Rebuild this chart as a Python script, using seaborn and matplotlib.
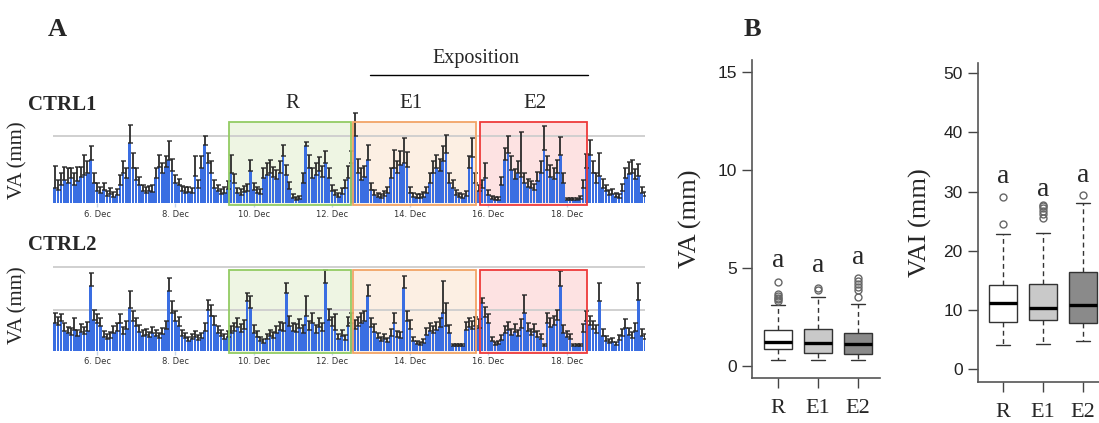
import numpy as np
import pandas as pd
import matplotlib
matplotlib.use('Agg')
import matplotlib.pyplot as plt
from matplotlib.patches import Rectangle
import seaborn as sns

sns.set_style('white')
plt.rcParams['font.family'] = ['Liberation Serif', 'DejaVu Serif']

# 2-hourly means, 4 Dec 22:00 -> 20 Dec 00:00 (arbitrary mm scale)
times = pd.date_range('2017-12-04 22:00', periods=182, freq='2h')

ctrl1_va = [
    1.5, 1.3, 1.8, 2.3, 2.0, 2.5, 1.8, 2.2, 2.6, 2.8, 3.0, 4.3,
    2.0, 1.2, 1.0, 1.3, 0.7, 0.9, 0.6, 0.8, 1.8, 3.0, 2.5, 6.0,
    3.5, 2.3, 1.8, 1.2, 1.0, 1.2, 1.1, 2.5, 3.6, 3.0, 3.6, 4.3,
    3.2, 2.0, 1.8, 1.2, 1.0, 1.1, 1.0, 2.7, 1.5, 3.5, 5.8, 4.0,
    3.0, 1.5, 1.2, 0.9, 1.0, 1.4, 3.0, 2.0, 1.0, 0.8, 1.1, 1.2,
    3.2, 1.3, 1.0, 0.9, 2.5, 2.8, 3.0, 2.6, 2.4, 3.0, 4.7, 2.8,
    1.4, 0.5, 0.3, 0.4, 2.0, 5.7, 3.5, 2.5, 2.8, 3.2, 2.6, 4.0,
    2.5, 1.2, 0.8, 0.6, 0.9, 1.5, 2.5, 4.0, 6.7, 3.0, 2.3, 2.6,
    4.3, 1.3, 0.8, 0.6, 0.5, 0.7, 1.0, 2.5, 3.5, 3.0, 3.8, 4.0,
    3.6, 1.0, 0.6, 0.5, 0.5, 0.6, 1.0, 2.0, 3.0, 3.5, 3.2, 4.2,
    5.0, 2.0, 1.5, 0.8, 0.6, 0.5, 0.7, 3.5, 4.6, 2.0, 1.2, 1.5,
    2.5, 0.8, 0.4, 0.3, 0.3, 1.8, 4.3, 5.0, 3.3, 2.4, 3.0, 2.6,
    2.0, 1.6, 1.5, 1.3, 2.2, 3.0, 5.3, 3.3, 2.6, 2.4, 3.0, 4.8,
    2.0, 0.3, 0.3, 0.3, 0.3, 0.4, 1.5, 3.5, 4.8, 3.0, 2.0, 2.7,
    1.5, 1.2, 0.8, 0.9, 0.6, 0.5, 1.2, 2.5, 2.9, 3.0, 2.4, 2.7,
    1.0, 0.7,
]
ctrl1_err = [
    2.2, 1.0, 1.2, 1.3, 1.5, 1.0, 1.2, 1.4, 1.0, 2.0, 1.2, 1.4,
    1.0, 0.8, 0.6, 0.7, 0.5, 0.6, 0.5, 0.6, 1.0, 1.2, 1.0, 1.8,
    1.5, 1.2, 0.8, 0.6, 0.6, 0.5, 0.7, 1.0, 1.2, 1.0, 1.1, 1.9,
    1.2, 0.8, 0.6, 0.5, 0.6, 0.5, 0.5, 2.0, 0.8, 1.2, 0.9, 1.0,
    1.2, 0.8, 0.6, 0.5, 0.6, 0.8, 1.8, 0.9, 0.5, 0.6, 0.6, 0.7,
    1.1, 0.7, 0.6, 0.5, 1.0, 1.2, 1.3, 1.0, 0.9, 1.2, 1.1, 1.0,
    0.7, 0.4, 0.3, 0.3, 1.0, 0.4, 1.3, 1.0, 1.2, 1.4, 1.1, 1.2,
    1.0, 0.6, 0.5, 0.4, 0.6, 0.8, 1.2, 1.2, 2.3, 1.4, 1.2, 1.1,
    1.5, 0.7, 0.5, 0.4, 0.4, 0.5, 0.6, 1.0, 1.8, 1.2, 1.4, 2.5,
    1.5, 0.6, 0.4, 0.4, 0.4, 0.5, 0.6, 1.0, 1.2, 1.3, 1.2, 1.5,
    1.8, 1.0, 0.8, 0.5, 0.4, 0.4, 0.5, 1.2, 1.9, 1.0, 0.6, 0.8,
    1.5, 0.5, 0.3, 0.3, 0.3, 0.8, 1.2, 1.7, 1.4, 1.0, 1.2, 4.5,
    1.0, 0.8, 0.7, 0.6, 0.9, 1.2, 2.4, 1.4, 1.2, 1.1, 1.3, 1.8,
    1.0, 0.2, 0.2, 0.2, 0.2, 0.3, 0.8, 1.4, 1.5, 1.2, 1.0, 2.3,
    0.9, 0.6, 0.5, 0.5, 0.4, 0.4, 0.7, 1.0, 1.2, 1.3, 1.0, 1.2,
    0.6, 0.4,
]
ctrl2_va = [
    2.8, 2.6, 3.0, 2.0, 1.8, 1.6, 2.1, 1.5, 1.9, 1.7, 2.0, 6.5,
    3.1, 2.8, 2.5, 1.4, 1.2, 1.3, 1.8, 2.0, 2.8, 1.7, 2.2, 4.3,
    3.0, 2.5, 1.9, 1.5, 1.6, 1.4, 1.8, 1.5, 1.3, 1.7, 2.2, 6.0,
    3.8, 3.0, 2.5, 1.5, 1.3, 1.0, 1.2, 1.4, 1.1, 1.3, 2.0, 4.1,
    3.5, 2.6, 1.8, 1.5, 1.2, 1.4, 1.8, 2.0, 2.4, 1.9, 2.2, 5.0,
    4.3, 1.8, 1.4, 1.0, 0.8, 1.2, 1.5, 1.3, 1.8, 2.1, 2.0, 5.8,
    2.5, 2.0, 1.9, 2.3, 1.8, 3.5, 2.1, 2.8, 1.8, 2.4, 2.0, 6.8,
    3.1, 2.5, 2.1, 1.2, 1.5, 1.1, 2.5, 2.8, 2.2, 2.5, 2.8, 3.0,
    5.5, 2.4, 1.9, 1.3, 1.0, 1.2, 0.9, 1.5, 2.8, 1.4, 1.3, 6.3,
    3.0, 2.2, 1.0, 0.7, 0.6, 0.8, 1.6, 2.0, 1.8, 2.1, 2.4, 3.8,
    2.5, 1.8, 0.5, 0.5, 0.5, 0.5, 2.1, 2.4, 2.2, 2.5, 2.3, 4.8,
    3.4, 2.8, 1.0, 0.6, 0.7, 1.1, 1.8, 2.1, 1.6, 1.9, 1.5, 2.3,
    3.8, 2.0, 1.6, 1.9, 1.4, 1.2, 0.5, 2.8, 2.4, 2.6, 3.1, 6.5,
    1.8, 1.4, 1.2, 0.5, 0.5, 0.5, 1.9, 3.0, 2.6, 2.2, 1.8, 5.0,
    1.5, 1.0, 0.8, 0.9, 0.6, 1.1, 1.5, 2.3, 1.6, 1.3, 2.0, 5.1,
    1.5, 1.2,
]
ctrl2_err = [
    1.0, 0.8, 0.7, 0.8, 0.6, 0.7, 1.2, 0.6, 0.8, 0.7, 0.9, 1.3,
    1.0, 0.9, 0.8, 0.6, 0.5, 0.6, 0.7, 0.8, 0.9, 0.7, 0.8, 1.7,
    1.0, 0.8, 0.7, 0.6, 0.6, 0.5, 0.6, 0.6, 0.5, 0.6, 0.8, 1.3,
    1.2, 1.0, 0.9, 0.6, 0.5, 0.4, 0.5, 0.6, 0.5, 0.5, 0.8, 1.0,
    1.1, 0.9, 0.7, 0.6, 0.5, 0.6, 0.7, 0.8, 0.9, 0.8, 0.9, 0.8,
    1.2, 0.8, 0.6, 0.4, 0.4, 0.5, 0.6, 0.6, 0.7, 0.8, 0.8, 1.0,
    1.0, 0.8, 0.8, 0.9, 0.8, 2.0, 0.9, 1.0, 0.8, 0.9, 0.8, 1.3,
    1.1, 0.9, 1.6, 0.5, 0.6, 0.5, 0.9, 1.0, 0.9, 0.9, 1.0, 1.0,
    1.1, 0.9, 0.8, 0.5, 0.4, 0.5, 0.4, 0.7, 1.0, 0.6, 0.6, 1.2,
    1.0, 0.9, 0.4, 0.3, 0.3, 0.4, 0.7, 0.8, 0.7, 0.8, 0.9, 3.2,
    2.3, 0.8, 0.2, 0.2, 0.2, 0.2, 0.8, 0.9, 0.8, 0.9, 0.9, 0.5,
    1.0, 0.9, 0.4, 0.3, 0.3, 0.5, 0.7, 0.8, 0.6, 0.8, 0.6, 0.9,
    1.8, 0.8, 0.6, 0.8, 0.6, 0.5, 0.2, 1.0, 0.9, 0.9, 1.0, 1.5,
    0.8, 0.6, 0.5, 0.2, 0.2, 0.2, 0.8, 1.0, 0.9, 0.8, 0.8, 1.8,
    0.7, 0.5, 0.4, 0.4, 0.3, 0.5, 0.7, 0.9, 0.7, 0.6, 0.8, 1.7,
    0.7, 0.5,
]

periods = ['R', 'E1', 'E2']
# period spans in day-of-December
period_start = [9.36, 12.55, 15.78]
period_end = [12.50, 15.68, 18.51]

va_r = [0.34, 0.45, 0.55, 0.62, 0.70, 0.78, 0.85, 0.90, 0.98, 1.05, 1.10, 1.15, 1.18, 1.21,
        1.24, 1.30, 1.40, 1.50, 1.60, 1.70, 1.78, 1.84, 3.11, 3.30, 3.40, 3.50, 3.60, 3.70, 4.30]
va_e1 = [0.34, 0.40, 0.45, 0.50, 0.55, 0.58, 0.62, 0.65, 0.75, 0.85, 0.95, 1.02, 1.08, 1.12,
         1.16, 1.25, 1.35, 1.48, 1.60, 1.72, 1.84, 1.92, 2.20, 2.60, 2.90, 3.20, 3.54, 3.86, 3.96]
va_e2 = [0.34, 0.40, 0.45, 0.50, 0.54, 0.57, 0.59, 0.61, 0.70, 0.80, 0.90, 0.98, 1.04, 1.08,
         1.12, 1.20, 1.30, 1.40, 1.50, 1.58, 1.65, 1.70, 3.16, 3.54, 3.90, 4.05, 4.20, 4.35, 4.49]
vai_r = [4.13, 5.0, 5.8, 6.4, 6.9, 7.4, 7.8, 8.06, 8.6, 9.2, 9.8, 10.3, 10.7, 11.0,
         11.27, 11.7, 12.2, 12.7, 13.2, 13.6, 14.0, 14.25, 16.0, 18.0, 20.0, 21.5, 22.85, 24.5, 29.1]
vai_e1 = [4.3, 5.2, 6.0, 6.7, 7.3, 7.8, 8.1, 8.35, 8.7, 9.1, 9.5, 9.8, 10.0, 10.15,
          10.3, 10.9, 11.6, 12.3, 13.0, 13.6, 14.1, 14.5, 23.1, 25.6, 26.2, 26.8, 27.2, 27.5, 27.7]
vai_e2 = [4.8, 5.5, 6.2, 6.7, 7.1, 7.4, 7.6, 7.8, 8.4, 9.0, 9.5, 9.9, 10.3, 10.6,
          10.9, 11.8, 12.7, 13.6, 14.5, 15.3, 15.9, 16.4, 18.0, 20.0, 22.0, 24.0, 26.0, 28.0, 29.5]
va_letter_y = [5.4, 5.15, 5.55]
vai_letter_y = [32.5, 30.4, 32.7]
date_ticks = [6, 8, 10, 12, 14, 16, 18]

W, H = 1099, 423
fig = plt.figure(figsize=(W / 100, H / 100), dpi=100)


def px_axes(l, t, r, b):
    return fig.add_axes([l / W, 1 - b / H, (r - l) / W, (b - t) / H])


def ftext(x, y, s, **kw):
    fig.text(x / W, 1 - y / H, s, ha='center', va='center', **kw)


# bars sit on categorical slots 0..181; map day-of-month onto slot units
day0 = times[0].day + times[0].hour / 24.0
steps_per_day = 12


def to_slot(d):
    return (np.asarray(d) - day0) * steps_per_day


labels = times.strftime('%d %H:%M')
span_fill = ['#eef5e3', '#fcefe3', '#fde2e2']
span_edge = ['#93cc63', '#f2a466', '#ee3a3a']


def draw_series(ax, vals, errs, ymax, grid, box_top):
    sns.barplot(x=labels, y=vals, order=list(labels), color='#3a6ee2', saturation=1,
                width=0.8, errorbar=None, ax=ax, zorder=3, linewidth=0)
    slots = np.arange(len(vals))
    ax.errorbar(slots, vals, yerr=[np.zeros(len(vals)), errs], fmt='none',
                ecolor='#262626', elinewidth=1.4, capsize=1.8, capthick=1.1,
                alpha=0.9, zorder=4)
    for g in grid:
        ax.axhline(g, color='#cdcdcd', lw=1.3, zorder=0.8)
    for s, e, fc, ec in zip(to_slot(period_start), to_slot(period_end), span_fill, span_edge):
        ax.add_patch(Rectangle((s, -0.25), e - s, box_top + 0.25, facecolor=fc,
                               edgecolor='none', zorder=0.5, clip_on=False))
        ax.add_patch(Rectangle((s, -0.25), e - s, box_top + 0.25, facecolor='none',
                               edgecolor=ec, lw=1.3, zorder=5, clip_on=False))
    ax.set_xlim(to_slot(4.875), to_slot(20.0))
    ax.set_ylim(0, ymax)
    ax.set_yticks([])
    ax.set_xticks(to_slot(date_ticks))
    ax.set_xticklabels([f'{d}. Dec' for d in date_ticks], family='DejaVu Sans',
                       fontsize=6, color='#333333')
    ax.tick_params(axis='x', length=3, width=1, color='#c4d4ea', pad=2, bottom=True)
    ax.set_xlabel('')
    ax.set_ylabel('')
    for sp in ax.spines.values():
        sp.set_visible(False)
    ax.patch.set_alpha(0)


ax1 = px_axes(53, 105, 645, 203)
draw_series(ax1, ctrl1_va, ctrl1_err, 9.8, [6.7], 8.05)
ax2 = px_axes(53, 258, 645, 350.5)
draw_series(ax2, ctrl2_va, ctrl2_err, 9.25, [4.1, 8.4], 8.1)

ftext(57, 30, 'A', fontsize=19, fontweight='bold')
ftext(752, 30, 'B', fontsize=19, fontweight='bold')
fig.text(28 / W, 1 - 105 / H, 'CTRL1', ha='left', va='center', fontsize=15, fontweight='bold')
fig.text(28 / W, 1 - 245 / H, 'CTRL2', ha='left', va='center', fontsize=15, fontweight='bold')
ftext(18, 160, 'VA (mm)', fontsize=15, rotation=90)
ftext(18, 305, 'VA (mm)', fontsize=15, rotation=90)
ftext(476, 58, 'Exposition', fontsize=14.5)
fig.add_artist(plt.Line2D([370 / W, 588 / W], [1 - 75 / H, 1 - 75 / H], color='black', lw=1))
for lab, xp in zip(periods, [292, 411, 535]):
    ftext(xp, 103, lab, fontsize=15)


def draw_box(ax, lists, ylabel, ylim, yticks, letter_y, label_x):
    df = pd.DataFrame({'period': np.repeat(periods, [len(v) for v in lists]),
                       'value': np.concatenate(lists)})
    sns.boxplot(data=df, x='period', y='value', hue='period', order=periods, hue_order=periods,
                palette=['white', '#c9c9c9', '#8a8a8a'], saturation=1, width=0.72,
                linecolor='#333333', linewidth=1.0, legend=False, ax=ax,
                whiskerprops={'linestyle': (0, (3.5, 2.5))},
                medianprops={'color': 'black', 'linewidth': 2.4},
                flierprops={'marker': 'o', 'markerfacecolor': 'none', 'markeredgecolor': '#666666',
                            'markersize': 5, 'markeredgewidth': 1})
    for i, ly in enumerate(letter_y):
        ax.text(i, ly, 'a', ha='center', va='center', fontsize=20)
    ax.set_ylim(*ylim)
    ax.set_yticks(yticks)
    ax.set_yticklabels([str(t) for t in yticks], family='Liberation Sans', fontsize=12.5, color='#222222')
    ax.set_xticks(range(3))
    ax.set_xticklabels(periods, fontsize=16)
    ax.tick_params(axis='both', length=7, width=1, color='#444444', left=True, bottom=True)
    ax.tick_params(axis='x', pad=8)
    ax.tick_params(axis='y', pad=4)
    ax.set_xlabel('')
    ax.set_ylabel(ylabel, fontsize=19)
    ax.yaxis.set_label_coords(label_x, 0.5)
    for side in ['top', 'right']:
        ax.spines[side].set_visible(False)
    for side in ['left', 'bottom']:
        ax.spines[side].set_color('#555555')
        ax.spines[side].set_linewidth(1.2)


ax3 = px_axes(752, 60, 880, 378)
draw_box(ax3, [va_r, va_e1, va_e2], 'VA (mm)', (-0.6, 15.6), [0, 5, 10, 15], va_letter_y, -0.39)
ax3.set_xlim(-0.65, 2.55)
ax4 = px_axes(978, 63, 1108, 381.7)
draw_box(ax4, [vai_r, vai_e1, vai_e2], 'VAI (mm)', (-2.06, 51.7), [0, 10, 20, 30, 40, 50],
         vai_letter_y, -0.354)
ax4.set_xlim(-0.625, 2.625)

fig.savefig('out.png', dpi=100)
